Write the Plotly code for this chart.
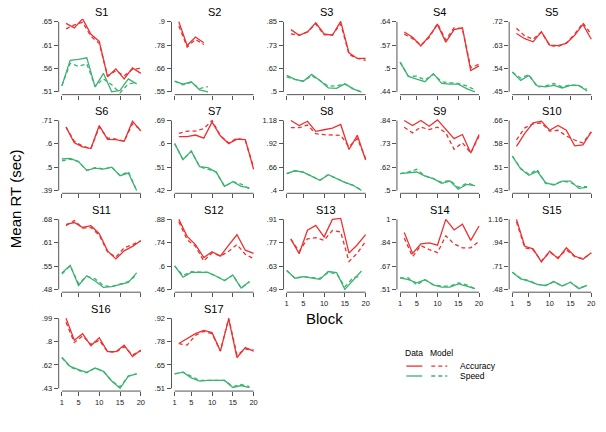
import numpy as np
import plotly.graph_objects as go

# ---------------- data ----------------
acc_blocks = list(range(2, 21, 2))
spd_blocks = list(range(1, 20, 2))
acc_blocks_s2 = [2, 4, 6, 8]
spd_blocks_s2 = [1, 3, 5, 7, 9]
x_tick_vals = [1, 5, 10, 15, 20]
x_tick_labels = ["1", "5", "10", "15", "20"]

s1_acc = [.647, .638, .656, .625, .611, .540, .556, .536, .558, .547]
s1_acc_model = [.636, .644, .649, .621, .607, .542, .552, .542, .555, .557]
s1_spd = [.522, .573, .575, .578, .520, .547, .510, .513, .536, .526]
s1_spd_model = [.522, .567, .561, .566, .521, .536, .524, .508, .526, .528]
s1_yticks = [".51", ".56", ".61", ".65"]

s2_acc = [.900, .782, .824, .795]
s2_acc_model = [.879, .774, .812, .787]
s2_spd = [.603, .588, .600, .560, .550]
s2_spd_model = [.603, .585, .597, .566, .576]
s2_yticks = [".55", ".66", ".78", ".9"]

s3_acc = [.811, .783, .800, .845, .790, .783, .852, .695, .667, .667]
s3_acc_model = [.790, .783, .800, .840, .785, .785, .840, .687, .667, .658]
s3_spd = [.582, .562, .553, .587, .557, .520, .517, .540, .515, .498]
s3_spd_model = [.575, .562, .553, .580, .557, .528, .530, .540, .515, .500]
s3_yticks = [".5", ".62", ".73", ".85"]

s4_acc = [.611, .596, .571, .599, .632, .582, .618, .623, .501, .514]
s4_acc_model = [.605, .592, .574, .595, .635, .588, .623, .620, .509, .519]
s4_spd = [.525, .484, .476, .469, .492, .464, .462, .462, .449, .440]
s4_spd_model = [.525, .484, .485, .474, .490, .469, .466, .464, .457, .446]
s4_yticks = [".44", ".5", ".57", ".64"]

s5_acc = [.675, .655, .643, .681, .630, .628, .637, .668, .710, .653]
s5_acc_model = [.695, .666, .653, .681, .628, .625, .639, .672, .716, .672]
s5_spd = [.526, .494, .513, .473, .469, .475, .465, .475, .475, .453]
s5_spd_model = [.526, .503, .516, .469, .473, .482, .469, .477, .473, .460]
s5_yticks = [".45", ".54", ".63", ".72"]

s6_acc = [.680, .608, .590, .582, .687, .624, .623, .615, .707, .662]
s6_acc_model = [.680, .615, .593, .582, .680, .630, .625, .615, .695, .668]
s6_spd = [.534, .537, .522, .482, .492, .488, .497, .458, .470, .390]
s6_spd_model = [.525, .534, .522, .482, .495, .488, .497, .458, .477, .390]
s6_yticks = [".39", ".5", ".6", ".71"]

s7_acc = [.628, .628, .634, .622, .684, .631, .601, .618, .616, .502]
s7_acc_model = [.640, .649, .649, .659, .690, .631, .603, .622, .613, .510]
s7_spd = [.601, .539, .572, .512, .508, .491, .436, .454, .436, .430]
s7_spd_model = [.601, .539, .572, .512, .502, .491, .436, .454, .445, .426]
s7_yticks = [".42", ".51", ".6", ".69"]

s8_acc = [1.180, 1.125, 1.172, 1.059, 1.077, 1.095, 1.136, .857, 1.015, .740]
s8_acc_model = [1.100, 1.100, 1.130, 1.033, 1.022, 1.015, 1.015, .887, .978, .758]
s8_spd = [.587, .620, .604, .560, .513, .576, .532, .491, .458, .400]
s8_spd_model = [.587, .620, .604, .560, .513, .576, .532, .491, .458, .405]
s8_yticks = [".4", ".66", ".92", "1.18"]

s9_acc = [.840, .816, .840, .812, .843, .796, .752, .772, .682, .772]
s9_acc_model = [.807, .780, .808, .796, .808, .780, .700, .732, .682, .764]
s9_spd = [.582, .587, .590, .570, .558, .535, .546, .506, .530, .524]
s9_spd_model = [.582, .590, .603, .571, .558, .540, .550, .514, .535, .527]
s9_yticks = [".5", ".62", ".73", ".84"]

s10_acc = [.575, .618, .652, .658, .628, .644, .628, .577, .580, .623]
s10_acc_model = [.596, .636, .649, .652, .625, .628, .609, .596, .586, .623]
s10_spd = [.543, .501, .480, .493, .456, .448, .461, .461, .437, .440]
s10_spd_model = [.543, .503, .483, .499, .453, .450, .461, .456, .443, .443]
s10_yticks = [".43", ".51", ".58", ".66"]

s11_acc = [.666, .671, .657, .662, .639, .590, .567, .590, .603, .619]
s11_acc_model = [.662, .677, .655, .657, .635, .587, .572, .599, .608, .619]
s11_spd = [.527, .549, .491, .519, .504, .486, .488, .494, .500, .527]
s11_spd_model = [.524, .547, .497, .517, .510, .491, .488, .494, .502, .521]
s11_yticks = [".48", ".55", ".61", ".68"]

s12_acc = [.880, .778, .729, .651, .686, .660, .725, .788, .695, .676]
s12_acc_model = [.866, .758, .719, .630, .680, .660, .689, .729, .670, .645]
s12_spd = [.601, .533, .562, .562, .562, .539, .513, .546, .468, .507]
s12_spd_model = [.601, .543, .566, .566, .562, .539, .513, .546, .468, .505]
s12_yticks = [".46", ".6", ".74", ".88"]

s13_acc = [.793, .704, .845, .874, .805, .910, .916, .708, .758, .819]
s13_acc_model = [.790, .718, .793, .800, .785, .843, .835, .657, .708, .778]
s13_spd = [.603, .557, .566, .560, .550, .597, .591, .490, .546, .600]
s13_spd_model = [.603, .557, .566, .560, .556, .591, .585, .506, .560, .570]
s13_yticks = [".49", ".63", ".77", ".91"]

s14_acc = [.908, .762, .828, .835, .819, 1.000, .926, .966, .853, .954]
s14_acc_model = [.870, .739, .817, .789, .767, .885, .828, .801, .801, .846]
s14_spd = [.590, .579, .556, .577, .542, .526, .526, .549, .533, .515]
s14_spd_model = [.590, .590, .542, .577, .542, .533, .533, .556, .542, .515]
s14_yticks = [".51", ".67", ".84", "1"]

s15_acc = [1.160, .899, .874, .747, .851, .779, .884, .804, .772, .836]
s15_acc_model = [1.137, .884, .865, .756, .842, .788, .865, .798, .779, .830]
s15_spd = [.646, .582, .560, .528, .518, .556, .512, .550, .487, .518]
s15_spd_model = [.646, .588, .566, .528, .518, .556, .512, .550, .493, .518]
s15_yticks = [".48", ".71", ".94", "1.16"]

s16_acc = [.990, .814, .867, .770, .833, .723, .723, .775, .684, .736]
s16_acc_model = [.958, .796, .849, .781, .814, .723, .718, .763, .697, .728]
s16_spd = [.676, .605, .579, .558, .592, .566, .488, .430, .527, .545]
s16_spd_model = [.676, .600, .574, .553, .592, .566, .488, .441, .527, .545]
s16_yticks = [".43", ".62", ".8", ".99"]

s17_acc = [.772, .801, .830, .849, .836, .728, .916, .690, .748, .728]
s17_acc_model = [.772, .763, .820, .843, .830, .728, .920, .705, .740, .734]
s17_spd = [.594, .604, .571, .552, .556, .556, .556, .514, .526, .514]
s17_spd_model = [.594, .604, .580, .556, .556, .556, .556, .520, .532, .520]
s17_yticks = [".51", ".65", ".78", ".92"]

panels = [
    ("S1", acc_blocks, s1_acc, s1_acc_model, spd_blocks, s1_spd, s1_spd_model, s1_yticks),
    ("S2", acc_blocks_s2, s2_acc, s2_acc_model, spd_blocks_s2, s2_spd, s2_spd_model, s2_yticks),
    ("S3", acc_blocks, s3_acc, s3_acc_model, spd_blocks, s3_spd, s3_spd_model, s3_yticks),
    ("S4", acc_blocks, s4_acc, s4_acc_model, spd_blocks, s4_spd, s4_spd_model, s4_yticks),
    ("S5", acc_blocks, s5_acc, s5_acc_model, spd_blocks, s5_spd, s5_spd_model, s5_yticks),
    ("S6", acc_blocks, s6_acc, s6_acc_model, spd_blocks, s6_spd, s6_spd_model, s6_yticks),
    ("S7", acc_blocks, s7_acc, s7_acc_model, spd_blocks, s7_spd, s7_spd_model, s7_yticks),
    ("S8", acc_blocks, s8_acc, s8_acc_model, spd_blocks, s8_spd, s8_spd_model, s8_yticks),
    ("S9", acc_blocks, s9_acc, s9_acc_model, spd_blocks, s9_spd, s9_spd_model, s9_yticks),
    ("S10", acc_blocks, s10_acc, s10_acc_model, spd_blocks, s10_spd, s10_spd_model, s10_yticks),
    ("S11", acc_blocks, s11_acc, s11_acc_model, spd_blocks, s11_spd, s11_spd_model, s11_yticks),
    ("S12", acc_blocks, s12_acc, s12_acc_model, spd_blocks, s12_spd, s12_spd_model, s12_yticks),
    ("S13", acc_blocks, s13_acc, s13_acc_model, spd_blocks, s13_spd, s13_spd_model, s13_yticks),
    ("S14", acc_blocks, s14_acc, s14_acc_model, spd_blocks, s14_spd, s14_spd_model, s14_yticks),
    ("S15", acc_blocks, s15_acc, s15_acc_model, spd_blocks, s15_spd, s15_spd_model, s15_yticks),
    ("S16", acc_blocks, s16_acc, s16_acc_model, spd_blocks, s16_spd, s16_spd_model, s16_yticks),
    ("S17", acc_blocks, s17_acc, s17_acc_model, spd_blocks, s17_spd, s17_spd_model, s17_yticks),
]
labelled_x = {"S13", "S14", "S15", "S16", "S17"}

# ---------------- style / geometry ----------------
W, H = 606, 432
RED = "#EE3030"
GREEN = "#3CB371"
AXIS = "#555555"
TEXT = "#222222"
FONT = "Liberation Sans, Arial, sans-serif"
col_left = [58.8, 171.8, 284.0, 397.6, 510.0]
row_top = [17.2, 116.8, 216.6, 316.4]
panel_w, panel_h = 85.4, 76.3
LW = 1.3
DASH = "4px,3px"

fig = go.Figure()
layout = dict(width=W, height=H, margin=dict(l=0, r=0, t=0, b=0),
              paper_bgcolor="white", plot_bgcolor="white",
              showlegend=False, hovermode=False,
              font=dict(family=FONT, color=TEXT))
shapes = []
annotations = []

for i, (name, ax_, ad, am, sx, sd, sm, yt) in enumerate(panels):
    n = i + 1
    r, c = divmod(i, 5)
    suf = "" if n == 1 else str(n)
    xr, yr = "x" + suf, "y" + suf
    x0 = col_left[c] / W
    x1 = (col_left[c] + panel_w) / W
    y1 = 1 - row_top[r] / H
    y0 = 1 - (row_top[r] + panel_h) / H
    lo, hi = float(yt[0]), float(yt[-1])
    pad = 0.04 * (hi - lo)
    xpad = 0.04 * (x_tick_vals[-1] - x_tick_vals[0])
    show = name in labelled_x
    layout["xaxis" + suf] = dict(
        domain=[x0, x1], anchor=yr,
        range=[x_tick_vals[0] - xpad, x_tick_vals[-1] + xpad],
        tickmode="array", tickvals=x_tick_vals, ticktext=x_tick_labels,
        showticklabels=show, ticks="outside", ticklen=4, tickwidth=1,
        tickcolor=AXIS, showgrid=False, zeroline=False, showline=False,
        tickfont=dict(size=7.5, color=TEXT, family=FONT), fixedrange=True)
    layout["yaxis" + suf] = dict(
        domain=[y0, y1], anchor=xr, range=[lo - pad, hi + pad],
        tickmode="array", tickvals=list(np.linspace(lo, hi, 4)), ticktext=yt,
        ticks="outside", ticklen=4, tickwidth=1, tickcolor=AXIS,
        showgrid=False, zeroline=False, showline=False,
        tickfont=dict(size=7.5, color=TEXT, family=FONT), fixedrange=True)
    # R-style axis lines spanning the tick range
    shapes.append(dict(type="line", xref=xr, yref=yr + " domain",
                       x0=x_tick_vals[0], x1=x_tick_vals[-1], y0=0, y1=0,
                       line=dict(color=AXIS, width=1)))
    shapes.append(dict(type="line", xref=xr + " domain", yref=yr,
                       x0=0, x1=0, y0=lo, y1=hi,
                       line=dict(color=AXIS, width=1)))
    for xs, ys, col, dash in [(ax_, ad, RED, "solid"), (ax_, am, RED, DASH),
                              (sx, sd, GREEN, "solid"), (sx, sm, GREEN, DASH)]:
        fig.add_trace(go.Scatter(x=xs, y=ys, xaxis=xr, yaxis=yr, mode="lines",
                                 line=dict(color=col, width=LW, dash=dash),
                                 hoverinfo="skip"))
    annotations.append(dict(text=name, x=(x0 + x1) / 2, y=1 - (row_top[r] - 7) / H,
                            xref="paper", yref="paper", showarrow=False,
                            xanchor="center", yanchor="middle",
                            font=dict(size=11, color="black", family=FONT)))

# axis titles
annotations.append(dict(text="Mean RT (sec)", x=15 / W, y=1 - 198 / H, xref="paper",
                        yref="paper", showarrow=False, textangle=-90,
                        xanchor="center", yanchor="middle",
                        font=dict(size=15, color="black", family=FONT)))
annotations.append(dict(text="Block", x=325 / W, y=1 - 319 / H, xref="paper",
                        yref="paper", showarrow=False, xanchor="center",
                        yanchor="middle", font=dict(size=15, color="black", family=FONT)))

# custom legend
leg_font = dict(size=8.5, color="black", family=FONT)
annotations.append(dict(text="Data", x=414.5 / W, y=1 - 354 / H, xref="paper", yref="paper",
                        showarrow=False, xanchor="center", yanchor="middle", font=leg_font))
annotations.append(dict(text="Model", x=442 / W, y=1 - 354 / H, xref="paper", yref="paper",
                        showarrow=False, xanchor="center", yanchor="middle", font=leg_font))
for label, col, yy in [("Accuracy", RED, 367.5), ("Speed", GREEN, 377.5)]:
    shapes.append(dict(type="line", xref="paper", yref="paper",
                       x0=407 / W, x1=423 / W, y0=1 - yy / H, y1=1 - yy / H,
                       line=dict(color=col, width=LW)))
    shapes.append(dict(type="line", xref="paper", yref="paper",
                       x0=432 / W, x1=448 / W, y0=1 - yy / H, y1=1 - yy / H,
                       line=dict(color=col, width=LW, dash=DASH)))
    annotations.append(dict(text=label, x=459 / W, y=1 - yy / H, xref="paper", yref="paper",
                            showarrow=False, xanchor="left", yanchor="middle", font=leg_font))

layout["shapes"] = shapes
layout["annotations"] = annotations
fig.update_layout(**layout)

fig.write_html("out.html", config={"displayModeBar": False, "staticPlot": True},
               post_script="document.body.style.margin='0';document.body.style.overflow='hidden';")
